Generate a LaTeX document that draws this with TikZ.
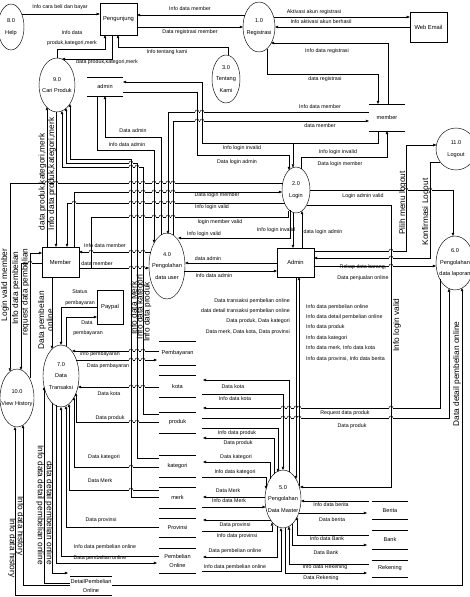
\documentclass[tikz,border=0pt]{standalone}
\usepackage{fontspec}
\setmainfont{Liberation Sans}
\usetikzlibrary{shapes.geometric,arrows.meta}
\newcommand\storelines[1]{\draw (#1.north west) -- (#1.north east) (#1.south west) -- (#1.south east);}
\newcommand\hops[2]{\foreach \hx in {#2}{%
  \fill[white] (\hx-2.4,#1-0.7) rectangle (\hx+2.4,#1+0.7);
  \draw (\hx,#1-1.3) -- (\hx,#1+1.3);
  \draw (\hx-2,#1) arc[start angle=180,end angle=0,radius=2pt];}}
\begin{document}
\begin{tikzpicture}[x=1pt,y=-1pt,line width=0.45pt,
  lbl/.style={font=\fontsize{5.3}{6}\selectfont,inner sep=0},
  blk/.style={font=\fontsize{5.3}{10.4}\selectfont,inner sep=0},
  vlbl/.style={font=\fontsize{8.3}{8}\selectfont,inner sep=0,rotate=90},
  dlbl/.style={font=\fontsize{8.3}{8}\selectfont,inner sep=0,rotate=-90},
  proc/.style={ellipse,draw,inner sep=0},
  ptext/.style={font=\fontsize{5.6}{11.5}\selectfont,align=center,inner sep=0},
  ent/.style={rectangle,draw,inner sep=0,font=\fontsize{5.8}{7}\selectfont},
  storet/.style={inner sep=0,font=\fontsize{5.6}{9}\selectfont,align=center},
  flow/.style={-{Triangle[length=3.2pt,width=2.6pt]}}]
\useasboundingbox (0,0) rectangle (470,597);

% ---------- processes ----------
\node[proc,minimum width=26pt,minimum height=46pt] (help) at (11,27) {};
\node[ptext] at (help) {8.0\\Help};
\node[proc,minimum width=32pt,minimum height=50pt] (reg) at (259,27) {};
\node[ptext] at (reg) {1.0\\Registrasi};
\node[proc,minimum width=28pt,minimum height=48pt] (tk) at (226,79) {};
\node[ptext] at (tk) {3.0\\Tentang\\Kami};
\node[proc,minimum width=36pt,minimum height=54pt] (cari) at (57,85) {};
\node[ptext] at (cari) {9.0\\Cari Produk};
\node[proc,minimum width=40pt,minimum height=42pt] (logout) at (456,149) {};
\node[ptext] at (logout) {11.0\\Logout};
\node[proc,minimum width=28pt,minimum height=46pt] (login) at (296,190) {};
\node[ptext] at (login) {2.0\\Login};
\node[proc,minimum width=38pt,minimum height=54pt] (lap) at (455,263) {};
\node[ptext] at (lap) {6.0\\Pengolahan\\data laporan};
\node[proc,minimum width=36pt,minimum height=66pt] (user) at (167,266) {};
\node[ptext] at (user) {4.0\\Pengolahan\\data user};
\node[proc,minimum width=36pt,minimum height=62pt] (trans) at (61,376) {};
\node[ptext] at (trans) {7.0\\Data\\Transaksi};
\node[proc,minimum width=34pt,minimum height=58pt] (hist) at (17,398) {};
\node[ptext] at (hist) {10.0\\View History};
\node[proc,minimum width=36pt,minimum height=58pt] (master) at (283,499) {};
\node[ptext] at (master) {5.0\\Pengolahan\\Data Master};

% ---------- entities ----------
\node[ent,minimum width=37pt,minimum height=32pt] (peng) at (118.5,19) {Pengunjung};
\node[ent,minimum width=37pt,minimum height=30pt] (web) at (428.5,27) {Web Email};
\node[ent,minimum width=37pt,minimum height=29pt] (adminb) at (295.5,262.5) {Admin};
\node[ent,minimum width=37pt,minimum height=30pt] (memb) at (60.5,262) {Member};
\node[ent,minimum width=26pt,minimum height=34pt] (paypal) at (110,307) {Paypal};

% ---------- stores ----------
\node[storet,minimum width=36pt,minimum height=19pt] (sadmin) at (105,86.5) {admin};
\node[storet,minimum width=36pt,minimum height=27pt] (smember) at (387,117.5) {member};
\node[storet,minimum width=37pt,minimum height=24pt] (spay) at (177.5,353) {Pembayaran};
\node[storet,minimum width=37pt,minimum height=22pt] (skota) at (177.5,386) {kota};
\node[storet,minimum width=37pt,minimum height=21pt] (sproduk) at (177.5,422.5) {produk};
\node[storet,minimum width=37pt,minimum height=22pt] (skat) at (177.5,466) {kategori};
\node[storet,minimum width=37pt,minimum height=21pt] (smerk) at (177.5,497.5) {merk};
\node[storet,minimum width=37pt,minimum height=19pt] (sprov) at (177.5,527.5) {Provinsi};
\node[storet,minimum width=37pt,minimum height=25pt] (sbeli) at (177.5,560.5) {Pembelian\\Online};
\node[storet,minimum width=42pt,minimum height=19pt] (sdetail) at (91,585.5) {DetailPembelian\\Online};
\node[storet,minimum width=36pt,minimum height=18pt] (sberita) at (390,510) {Berita};
\node[storet,minimum width=36pt,minimum height=19pt] (sbank) at (390,539.5) {Bank};
\node[storet,minimum width=36pt,minimum height=17pt] (srek) at (390,568.5) {Rekening};
\foreach \s in {sadmin,smember,spay,skota,sproduk,skat,smerk,sprov,sbeli,sdetail,sberita,sbank,srek}{\storelines{\s}}

% ---------- top flows ----------
\draw[flow] (22,14) -- (peng.west |- 0,14);
\draw[flow] (245,15) -- (137,15);
\draw[flow] (137,27) -- (243,27);
\draw[flow] (274,17) -- (web.west |- 0,17);
\draw[flow] (web.west |- 0,27) -- (275,27);
\draw[flow] (388,104) -- (388,43) -- (271,43);
\draw[flow] (267,49) -- (267,74) -- (378,74) -- (378,104);
\draw[flow] (57,58) -- (57,49) -- (105,49) -- (105,35);
\draw[flow] (112,35) -- (112,59) -- (62,59);
\draw[flow] (228,55) -- (228,47) -- (118,47) -- (118,35);

% ---------- admin store / login ----------
\draw[flow] (123,92) -- (197,92) -- (197,155) -- (289,155) -- (289,170);
\draw[flow] (378,131) -- (378,143) -- (293,143) -- (293,167.5);
\draw[flow] (293,143) -- (202,143) -- (202,82) -- (123,82);
\draw[flow] (301,168.5) -- (301,157) -- (387,157) -- (387,131);
\draw[flow] (283,183) -- (10,183) -- (10,371.5);
\draw[flow] (74,247) -- (74,192) -- (282,192);
\draw[flow] (284.5,203) -- (67,203) -- (67,247);
\draw (288,211) -- (288,217) -- (91,217) -- (91,268);
\draw[flow] (290,209.5) -- (290,238) -- (178,238);
\draw[flow] (293,212.5) -- (293,248);
\draw[flow] (302,248) -- (302,211);
\draw[flow] (277,263) -- (185,263);
\draw[flow] (184,271) -- (277,271);
\draw[flow] (79,268) -- (149,268);
\draw[flow] (150.7,252) -- (79,252);
\draw[flow] (161,235) -- (161,137) -- (105,137) -- (105,96);
\draw[flow] (97,96) -- (97,150) -- (154,150) -- (154,243);
\draw[flow] (369,112) -- (168,112) -- (168,234);
\draw[flow] (173,235) -- (173,121) -- (369,121);
\draw[flow] (310,190) -- (453,190) -- (453,236);
\draw[flow] (306.6,205) -- (391,205) -- (391,487) -- (300,487);
\draw[flow] (314,251) -- (406,251) -- (406,145) -- (436.4,145);
\draw[flow] (440.3,162) -- (430,162) -- (430,258) -- (314,258);
\draw[flow] (314,266) -- (436,266);
\draw[flow] (440,279) -- (440,408) -- (203,408);
\draw[flow] (202,418) -- (449,418) -- (449,288.6);
\draw[flow] (112,585) -- (462,585) -- (462,288);
\draw[flow] (296,277) -- (296,479);
\draw[flow] (299,486) -- (299,277);

% ---------- stores <-> 5.0 ----------
\draw[flow] (289,471.7) -- (289,380) -- (203,380);
\draw[flow] (202,394) -- (283,394) -- (283,470);
\draw[flow] (202,428) -- (278,428) -- (278,472);
\draw[flow] (274,474) -- (274,438) -- (203,438);
\draw[flow] (270,479) -- (270,462) -- (203,462);
\draw[flow] (202,477) -- (266,477) -- (266,489);
\draw[flow] (265,497) -- (203,497);
\draw[flow] (202,507) -- (265.7,507);
\draw[flow] (270.5,520) -- (203,520);
\draw[flow] (202,531) -- (272,531) -- (272,522.5);
\draw[flow] (277,526.3) -- (277,557) -- (203,557);
\draw[flow] (202,571) -- (281,571) -- (281,528);
\draw[flow] (369,501) -- (301,501);
\draw[flow] (299,513) -- (367,513);
\draw[flow] (369,535) -- (297,535) -- (297,517);
\draw[flow] (292,524) -- (292,545) -- (367,545);
\draw[flow] (369,564) -- (289,564) -- (289,526.3);
\draw[flow] (285,528) -- (285,573) -- (367,573);

% ---------- left side ----------
\draw[flow] (47,247) -- (47,107);
\draw[flow] (56,112) -- (56,247);
\draw[flow] (159,414) -- (143,414) -- (143,167) -- (62,167) -- (62,111);
\draw[flow] (159,458) -- (137,458) -- (137,163) -- (66,163) -- (66,108);
\draw[flow] (159,497) -- (131,497) -- (131,159) -- (70,159) -- (70,104);
\draw[flow] (159,467) -- (74,467) -- (74,397);
\draw[flow] (159,490) -- (69,490) -- (69,404);
\draw[flow] (159,527) -- (66,527) -- (66,406);
\draw[flow] (159,556) -- (61,556) -- (61,407);
\draw[flow] (56,405) -- (56,563) -- (157,563);
\draw[flow] (52,403) -- (52,573) -- (68,573);
\draw[flow] (70,583) -- (44,583) -- (44,387);
\draw[flow] (70,595) -- (15,595) -- (15,427);
\draw[flow] (70,585) -- (23,585) -- (23,425);
\draw[flow] (159,387) -- (78,387);
\draw[flow] (159,422) -- (76,422) -- (76,393);
\draw[flow] (159,351) -- (72,351);
\draw[flow] (76,360) -- (157,360);
\draw[flow] (66,346) -- (66,317) -- (97,317);
\draw[flow] (97,307) -- (61,307) -- (61,345);
\draw[flow] (52,277) -- (52,349);
\draw[flow] (30,378) -- (30,253) -- (42,253);
\draw[flow] (42,263) -- (21,263) -- (21,370);

% ---------- line hops ----------
\hops{183}{47,56,131,137,143,154,161,168,173}
\hops{192}{131,137,143,154,161,168,173}
\hops{203}{74,131,137,143,154,161,168,173}
\hops{217}{131,137,143,154,161,168,173}
\hops{252}{91,131,137,143}
\hops{268}{131,137,143}
\hops{112}{197,202}
\hops{121}{197,202}
\hops{163}{131}
\hops{167}{131,137}
\hops{190}{406,430}
\hops{251}{391}
\hops{258}{391}
\hops{266}{391}
\hops{408}{283,289,296,299,391}
\hops{418}{283,289,296,299,391}
\hops{490}{131}
\hops{467}{131}
\hops{422}{131,137}
\hops{387}{131,137,143}
\hops{351}{131,137,143}
\hops{360}{131,137,143}
\hops{263}{30}

% ---------- labels ----------
\node[lbl] at (60,7) {Info cara beli dan bayar};
\node[lbl] at (190,9) {Info data member};
\node[lbl] at (190,32) {Data registrasi member};
\node[lbl] at (72,33) {Info data};
\node[lbl] at (72,43) {produk,kategori,merk};
\node[lbl] at (107,62) {data produk,kategori,merk};
\node[lbl] at (167,52) {Info tentang kami};
\node[lbl] at (314,12) {Aktivasi akun registrasi};
\node[lbl] at (321,22) {Info aktivasi akun berhasil};
\node[lbl] at (327,51) {Info data registrasi};
\node[lbl] at (325,79) {data registrasi};
\node[lbl] at (320,107) {Info data member};
\node[lbl] at (320,126) {data member};
\node[lbl] at (133,131) {Data admin};
\node[lbl] at (127,145) {Info data admin};
\node[lbl] at (242,148) {Info  login invalid};
\node[lbl] at (237,162) {Data login admin};
\node[lbl] at (338,152) {Info  login invalid};
\node[lbl] at (340,164) {Data login member};
\node[lbl] at (217,195) {Data login member};
\node[lbl] at (212,207) {Info login valid};
\node[lbl] at (220,222) {login member valid};
\node[lbl] at (204,234) {Info  login valid};
\node[lbl] at (276,230) {Info login invalid};
\node[lbl] at (323,232) {data login admin};
\node[lbl] at (363,196) {Login admin valid};
\node[lbl] at (105,246) {Info data member};
\node[lbl] at (97,264) {data member};
\node[lbl] at (208,259) {data admin};
\node[lbl] at (214,276) {Info data admin};
\node[lbl] at (363,267) {Rekap data barang,};
\node[lbl] at (363,278) {Data penjualan online};
\node[lbl] at (80,292) {Status};
\node[lbl] at (80,303) {pembayaran};
\node[lbl] at (87,323) {Data};
\node[lbl] at (88,333) {pembayaran};
\node[lbl] at (100,354) {info pembayaran};
\node[lbl] at (108,366) {Data pembayaran};
\node[lbl] at (109,394) {Data kota};
\node[lbl] at (110,418) {Data produk};
\node[blk,anchor=north east,align=right] at (290,298) {Data transaksi pembelian online\\data detail transaksi pembelian online\\Data produk, Data kategori\\Data merk, Data kota, Data provinsi};
\node[blk,anchor=north west,align=left] at (306,304) {Info data pembelian online\\Info data detail pembelian online\\Info data produk\\Info data kategori\\Info data merk, Info data kota\\Info data provinsi, Info data berita};
\node[lbl] at (233,387) {Data kota};
\node[lbl] at (235,399) {Info data kota};
\node[lbl] at (237,433) {Info data produk};
\node[lbl] at (238,443) {Data produk};
\node[lbl] at (236,457) {Data kategori};
\node[lbl] at (235,472) {Info data kategori};
\node[lbl] at (228,491) {Data Merk};
\node[lbl] at (229,501) {Info data Merk};
\node[lbl] at (235,525) {Data provinsi};
\node[lbl] at (237,536) {Info data provinsi};
\node[lbl] at (235,551) {Data pembelian online};
\node[lbl] at (235,567) {Info data pembelian online};
\node[lbl] at (104,457) {Data kategori};
\node[lbl] at (100,481) {Data Merk};
\node[lbl] at (101,520) {Data provinsi};
\node[lbl] at (105,547) {Info data pembelian online};
\node[lbl] at (100,558) {Data pembelian online};
\node[lbl] at (331,505) {Info data berita};
\node[lbl] at (332,520) {Data berita};
\node[lbl] at (327,539) {Info data Bank};
\node[lbl] at (326,553) {Data Bank};
\node[lbl] at (325,567) {Info data Rekening};
\node[lbl] at (321,578) {Data Rekening};
\node[lbl] at (345,413) {Request data produk};
\node[lbl] at (352,426) {Data produk};

% rotated labels
\node[vlbl] at (42.5,182) {data produk,kategori,merk};
\node[vlbl] at (52,174) {Info data produk,kategori,merk};
\node[vlbl] at (5,285) {Login valid member};
\node[vlbl] at (16,288) {Info data pembelian};
\node[vlbl] at (25.5,292) {request data pembelian};
\node[vlbl,align=center,font=\fontsize{8.3}{7.4}\selectfont] at (45.5,320) {Data pembelian\\online};
\node[vlbl] at (134,308) {Info data Merk};
\node[vlbl] at (140.5,307) {Info data kategori};
\node[vlbl] at (147.5,312) {Info data produk};
\node[vlbl] at (403,203) {Pilih menu logout};
\node[vlbl] at (426,212) {Konfirmasi Logout};
\node[vlbl] at (397,325) {Info login valid};
\node[vlbl] at (457,374) {Data detail pembelian online};
\node[dlbl] at (49,513) {data detail pembelian online};
\node[dlbl] at (40,505) {Info data detail pembelian online};
\node[dlbl] at (20,526) {Info data history};
\node[dlbl] at (12,548) {Info data history};
\end{tikzpicture}
\end{document}
